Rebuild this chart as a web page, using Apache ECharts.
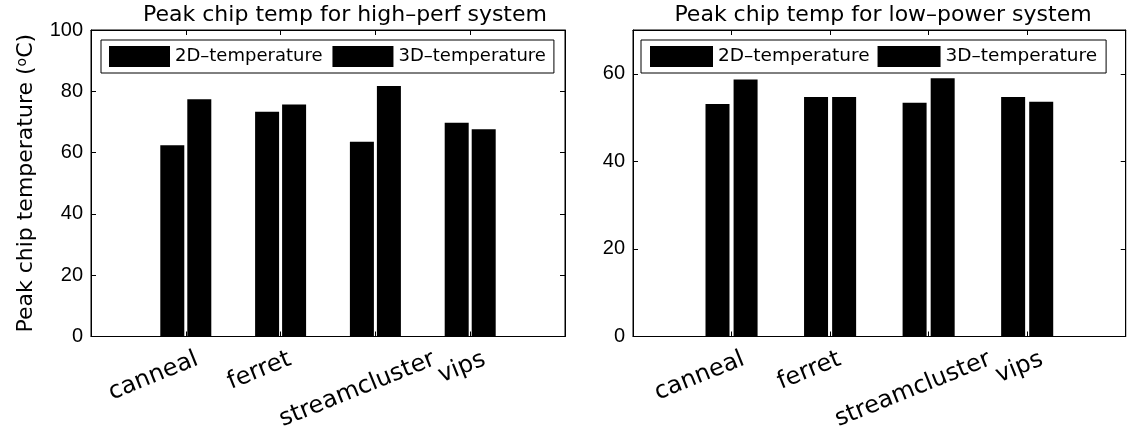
<!DOCTYPE html>
<html>
<head>
<meta charset="utf-8">
<script src="https://cdn.jsdelivr.net/npm/echarts@6/dist/echarts.min.js"></script>
<style>
  html, body { margin: 0; padding: 0; background: #fff; }
  #chart { width: 1133px; height: 433px; }
</style>
</head>
<body>
<div id="chart"></div>
<script>
// Benchmarks and peak chip temperatures (°C)
const categories = ['canneal', 'ferret', 'streamcluster', 'vips'];
const seriesNames = ['2D–temperature', '3D–temperature'];
const highPerf2D = [62.4, 73.3, 63.5, 69.7];
const highPerf3D = [77.4, 75.7, 81.7, 67.6];
const lowPower2D = [53.1, 54.7, 53.4, 54.7];
const lowPower3D = [58.7, 54.7, 59.0, 53.6];
const panelTitles = ['Peak chip temp for high–perf system', 'Peak chip temp for low–power system'];
const yMax = [100, 70];

// horizontal nudge (in category units) so the slanted names clear each other
const labelNudge = { canneal: 0.12, ferret: 0.1, streamcluster: 0.62, vips: 0.15 };

const TEXT_FONT = 'DejaVu Sans';
const NUM_FONT = 'Liberation Sans';

const grids = [
  { left: 91, top: 30, width: 474, height: 306.5 },
  { left: 633, top: 30, width: 499, height: 306.5 }
];
const titleCenters = [345, 883];
const barWidths = [24, 24];
const barGaps = ['12.5%', '17%'];

// name positions, plus a blank end slot at the axis max so the
// min/max overlap check never drops a real name
const labelValues = categories.map((c, i) => i + 1 + (labelNudge[c] || 0)).concat([5]);
const tickValues = categories.map((c, i) => i + 1);
function labelFor(v) {
  for (let i = 0; i < categories.length; i++) {
    if (Math.abs(labelValues[i] - v) < 1e-6) return categories[i];
  }
  return ' ';
}

const legendPos = [
  { left: 101, top: 40, itemWidth: 61, itemGap: 10, fontSize: 18, padding: [6, 8] },
  { left: 641, top: 40, itemWidth: 63, itemGap: 8, fontSize: 18.5, padding: [6, 9] }
];

const option = {
  animation: false,
  backgroundColor: '#fff',
  title: panelTitles.map((t, g) => ({
    text: t,
    left: titleCenters[g],
    top: 4,
    padding: 0,
    textAlign: 'center',
    textStyle: { fontFamily: TEXT_FONT, fontSize: 22, fontWeight: 'normal', color: '#000' }
  })),
  legend: legendPos.map(p => ({
    left: p.left,
    top: p.top,
    data: seriesNames,
    icon: 'rect',
    itemWidth: p.itemWidth,
    itemHeight: 21,
    itemGap: p.itemGap,
    padding: p.padding,
    borderColor: '#000',
    borderWidth: 1,
    backgroundColor: '#fff',
    selectedMode: false,
    textStyle: { fontFamily: TEXT_FONT, fontSize: p.fontSize, color: '#000' }
  })),
  grid: grids.map(g => ({ ...g, show: true, borderColor: '#000', borderWidth: 1, backgroundColor: 'transparent' })),
  xAxis: [],
  yAxis: [],
  series: []
};

grids.forEach((g, gi) => {
  // bottom axis: category ticks and slanted names
  option.xAxis.push({
    gridIndex: gi, type: 'value', position: 'bottom', min: 0, max: 5, interval: 1,
    axisLine: { show: true, onZero: false, lineStyle: { color: '#000', width: 1 } },
    axisTick: { show: true, inside: true, length: 5, customValues: tickValues, lineStyle: { color: '#000' } },
    axisLabel: {
      show: true,
      customValues: labelValues,
      formatter: labelFor,
      rotate: 22, margin: 22,
      hideOverlap: false,
      showMinLabel: true,
      showMaxLabel: true,
      fontFamily: TEXT_FONT, fontSize: 24, color: '#000'
    },
    splitLine: { show: false }
  });
  // top axis: mirrored ticks only
  option.xAxis.push({
    gridIndex: gi, type: 'value', position: 'top', min: 0, max: 5, interval: 1,
    axisLine: { show: true, onZero: false, lineStyle: { color: '#000', width: 1 } },
    axisTick: { show: true, inside: true, length: 5, customValues: tickValues, lineStyle: { color: '#000' } },
    axisLabel: { show: false },
    splitLine: { show: false }
  });
  // left value axis
  option.yAxis.push({
    gridIndex: gi, type: 'value', position: 'left', min: 0, max: yMax[gi], interval: 20,
    name: gi === 0 ? 'Peak chip temperature ({sup|o}C)' : '',
    nameLocation: 'middle', nameGap: 54, nameRotate: 90,
    nameTextStyle: {
      fontFamily: TEXT_FONT, fontSize: 22, color: '#000',
      rich: { sup: { fontFamily: TEXT_FONT, fontSize: 14, verticalAlign: 'top', padding: [0, 0, 8, 0] } }
    },
    axisLine: { show: true, onZero: false, lineStyle: { color: '#000', width: 1 } },
    axisTick: { show: true, inside: true, length: 5, lineStyle: { color: '#000' } },
    axisLabel: {
      margin: 8, fontFamily: NUM_FONT, fontSize: 20, color: '#000',
      formatter: v => (v % 20 === 0 ? String(v) : '')
    },
    splitLine: { show: false }
  });
  // right value axis: mirrored ticks only
  option.yAxis.push({
    gridIndex: gi, type: 'value', position: 'right', min: 0, max: yMax[gi], interval: 20,
    axisLine: { show: true, onZero: false, lineStyle: { color: '#000', width: 1 } },
    axisTick: { show: true, inside: true, length: 5, lineStyle: { color: '#000' } },
    axisLabel: { show: false },
    splitLine: { show: false }
  });
});

const panelData = [[highPerf2D, highPerf3D], [lowPower2D, lowPower3D]];
panelData.forEach((pair, gi) => {
  pair.forEach((vals, si) => {
    option.series.push({
      type: 'bar',
      name: seriesNames[si],
      xAxisIndex: gi * 2,
      yAxisIndex: gi * 2,
      data: vals.map((v, i) => [i + 1, v]),
      barWidth: barWidths[gi],
      barGap: barGaps[gi],
      itemStyle: { color: '#000' },
      emphasis: { disabled: true }
    });
  });
});

const chart = echarts.init(document.getElementById('chart'), null, { renderer: 'canvas' });
chart.setOption(option);
</script>
</body>
</html>
